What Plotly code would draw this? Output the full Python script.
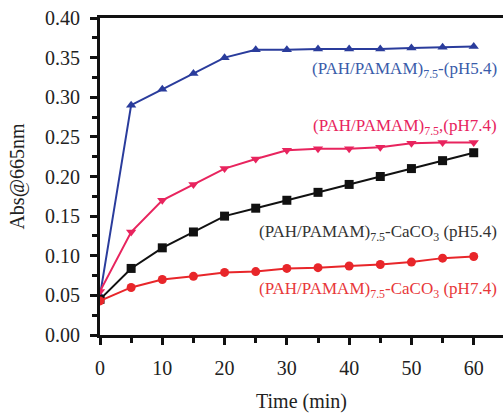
import plotly.graph_objects as go

time = [0, 5, 10, 15, 20, 25, 30, 35, 40, 45, 50, 55, 60]
pah_ph54 = [0.050, 0.290, 0.310, 0.330, 0.350, 0.360, 0.360, 0.361, 0.361, 0.361, 0.362, 0.363, 0.364]
pah_ph74 = [0.055, 0.130, 0.170, 0.190, 0.210, 0.222, 0.233, 0.235, 0.235, 0.237, 0.242, 0.243, 0.243]
caco3_ph54 = [0.045, 0.084, 0.110, 0.130, 0.150, 0.160, 0.170, 0.180, 0.190, 0.200, 0.210, 0.220, 0.230]
caco3_ph74 = [0.043, 0.060, 0.070, 0.074, 0.079, 0.080, 0.084, 0.085, 0.087, 0.089, 0.092, 0.097, 0.099]

series = [
    (pah_ph54, "#2A3C9C", "triangle-up", "(PAH/PAMAM)<sub>7.5</sub>-(pH5.4)", "#3A5CAA", 0.334),
    (pah_ph74, "#E8245E", "triangle-down", "(PAH/PAMAM)<sub>7.5</sub>,(pH7.4)", "#E8245E", 0.262),
    (caco3_ph54, "#111111", "square", "(PAH/PAMAM)<sub>7.5</sub>-CaCO<sub>3</sub> (pH5.4)", "#333333", 0.129),
    (caco3_ph74, "#E8262A", "circle", "(PAH/PAMAM)<sub>7.5</sub>-CaCO<sub>3</sub> (pH7.4)", "#E8383A", 0.057),
]

font_family = "Liberation Serif, Times New Roman, serif"
fig = go.Figure()
annotations = []
for vals, color, sym, label, tcolor, ly in series:
    fig.add_trace(go.Scatter(
        x=time, y=vals, mode="lines+markers",
        line=dict(color=color, width=2),
        marker=dict(symbol=sym, size=9, color=color),
        showlegend=False,
    ))
    annotations.append(dict(
        x=0.99, y=ly, xref="paper", yref="y", text=label, showarrow=False,
        xanchor="right", yanchor="middle",
        font=dict(family=font_family, size=17, color=tcolor),
    ))

fig.update_layout(
    width=503, height=415,
    margin=dict(l=100, r=0, t=18, b=80),
    plot_bgcolor="white", paper_bgcolor="white",
    font=dict(family=font_family, size=20, color="#222222"),
    annotations=annotations,
    xaxis=dict(
        range=[0, 64.7], tickvals=[0, 10, 20, 30, 40, 50, 60],
        ticks="outside", ticklen=7, tickwidth=3, tickcolor="#111111",
        ticklabelstandoff=6,
        minor=dict(tickvals=[5, 15, 25, 35, 45, 55], ticks="outside", ticklen=5, tickwidth=3, tickcolor="#111111"),
        showline=True, linewidth=3, linecolor="#111111", mirror=True,
        showgrid=False, zeroline=False,
        title=dict(text="Time (min)", font=dict(size=20), standoff=16),
        tickfont=dict(size=20),
    ),
    yaxis=dict(
        range=[0, 0.4], tickvals=[0, 0.05, 0.1, 0.15, 0.2, 0.25, 0.3, 0.35, 0.4],
        tickformat=".2f",
        ticks="outside", ticklen=7, tickwidth=3, tickcolor="#111111",
        ticklabelstandoff=6,
        minor=dict(tickvals=[0.025, 0.075, 0.125, 0.175, 0.225, 0.275, 0.325, 0.375], ticks="outside", ticklen=5, tickwidth=3, tickcolor="#111111"),
        showline=True, linewidth=3, linecolor="#111111",
        showgrid=False, zeroline=False,
        title=dict(text="Abs@665nm", font=dict(size=20), standoff=16),
        tickfont=dict(size=20),
    ),
)

fig.write_html("out.html")
